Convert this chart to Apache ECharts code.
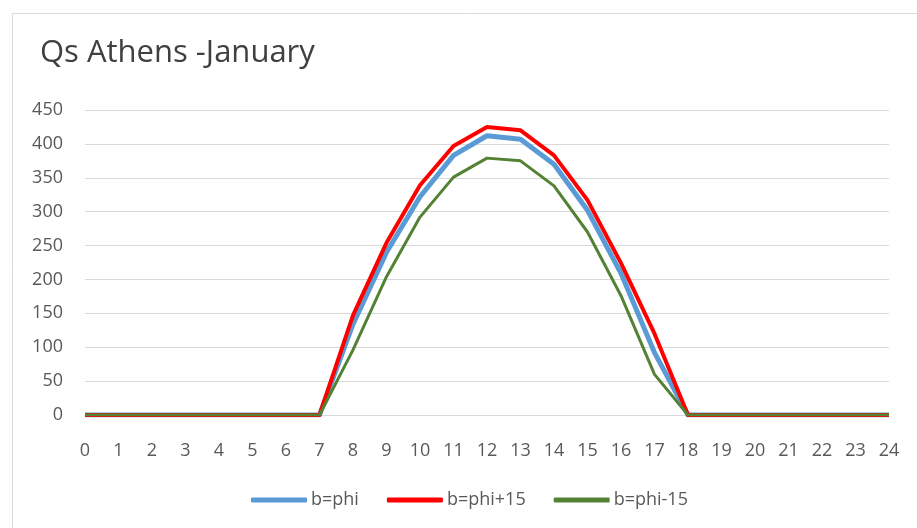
<!DOCTYPE html>
<html><head><meta charset="utf-8">
<script src="https://cdn.jsdelivr.net/npm/echarts@6/dist/echarts.min.js"></script>
<style>html,body{margin:0;padding:0;background:#fff}#c{width:917px;height:528px}</style>
</head><body><div id="c"></div>
<script>
const hours = ['0','1','2','3','4','5','6','7','8','9','10','11','12','13','14','15','16','17','18','19','20','21','22','23','24'];
const bPhi      = [0,0,0,0,0,0,0,0,134,240,322,383,412,407,370,302,209,92,0,0,0,0,0,0,0];
const bPhiPlus  = [0,0,0,0,0,0,0,0,147,254,339,397,425,420,383,317,224,120,0,0,0,0,0,0,0];
const bPhiMinus = [0,0,0,0,0,0,0,0,96,204,292,351,379,375,338,270,176,60,0,0,0,0,0,0,0];
const seriesNames = ['b=phi','b=phi+15','b=phi-15'];

const font = 'Open Sans, Noto Sans, sans-serif';
const chart = echarts.init(document.getElementById('c'), null, {renderer:'canvas'});
chart.setOption({
  animation:false,
  title:{text:'Qs Athens -January', left:35, top:33,
    textStyle:{fontFamily:font, fontSize:31, fontWeight:'normal', color:'#404040'}},
  graphic:[{type:'rect', left:10, top:11, shape:{width:920, height:530},
    style:{fill:null, stroke:'#d9d9d9', lineWidth:1}, silent:true}],
  legend:{bottom:14, left:246, itemWidth:56, itemHeight:5, itemGap:28,
    icon:'roundRect',
    textStyle:{fontFamily:font, fontSize:18, color:'#595959', padding:[0,0,0,-1]},
    data:seriesNames},
  grid:{left:85, right:28, top:110, bottom:113},
  xAxis:{type:'category', data:hours, boundaryGap:false,
    axisLine:{lineStyle:{color:'#d9d9d9'}}, axisTick:{show:false},
    axisLabel:{fontFamily:font, fontSize:18, color:'#595959', margin:27}},
  yAxis:{type:'value', min:0, max:450, interval:50,
    axisLine:{show:false}, axisTick:{show:false},
    splitLine:{lineStyle:{color:'#d9d9d9', width:1}},
    axisLabel:{fontFamily:font, fontSize:18, color:'#595959', margin:22}},
  series:[
    {name:seriesNames[0], type:'line', data:bPhi, symbol:'none', lineStyle:{width:5, color:'#5B9BD5', join:'round'}, itemStyle:{color:'#5B9BD5'}},
    {name:seriesNames[1], type:'line', data:bPhiPlus, symbol:'none', lineStyle:{width:4, color:'#FF0000', join:'round'}, itemStyle:{color:'#FF0000'}},
    {name:seriesNames[2], type:'line', data:bPhiMinus, symbol:'none', lineStyle:{width:3, color:'#548235', join:'round'}, itemStyle:{color:'#548235'}}
  ]
});
</script></body></html>
